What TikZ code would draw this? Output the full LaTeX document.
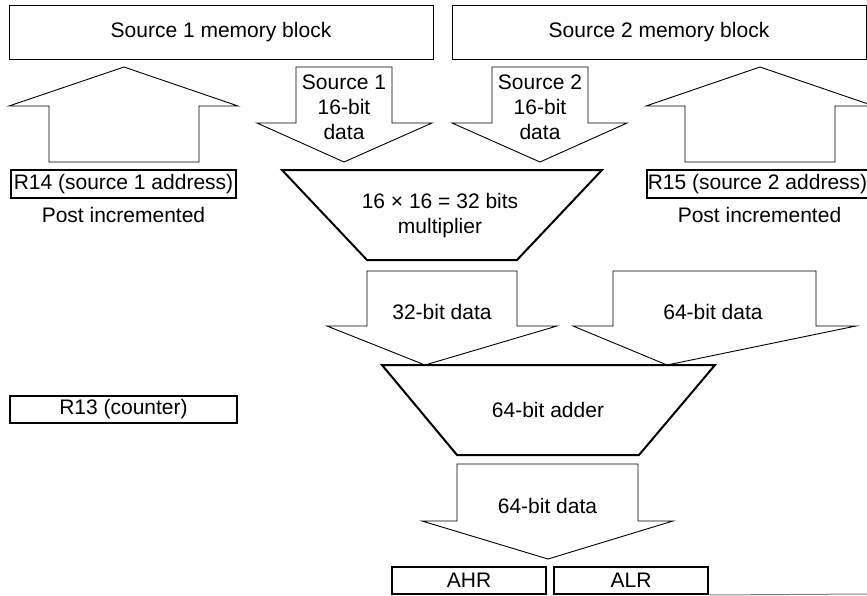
\documentclass[tikz,border=0pt]{standalone}
\usepackage{fontspec}
\setmainfont{Liberation Sans}
\begin{document}
\begin{tikzpicture}[x=1pt,y=-1pt,
  every node/.style={font=\fontsize{21}{25}\selectfont, inner sep=0pt},
  memblock/.style={draw, line width=1pt},
  regbox/.style={draw, line width=2pt},
  blockarrow/.style={draw, line width=0.9pt, fill=white, line join=miter},
  unitbox/.style={draw, line width=2pt, line join=miter},
  lbl/.style={align=center}
]
\useasboundingbox (0,0) rectangle (867,595);
\clip (0,0) rectangle (867,595);

% memory blocks
\node[memblock, minimum width=424pt, minimum height=54pt] (mem1) at (221,32) {Source 1 memory block};
\node[memblock, minimum width=414pt, minimum height=54pt] (mem2) at (659,32) {Source 2 memory block};

% address arrows (up)
\draw[blockarrow] (49,162) -- (49,106) -- (9,106) -- (124,67) -- (238,106) -- (199,106) -- (199,162) -- cycle;
\draw[blockarrow] (685,162) -- (685,106) -- (646,106) -- (760,67) -- (874,106) -- (835,106) -- (835,162) -- cycle;

% data arrows (down)
\draw[blockarrow] (296,67) -- (392,67) -- (392,123) -- (432,123) -- (344,162) -- (257,123) -- (296,123) -- cycle;
\node[lbl] (d1) at (344,107) {Source 1\\16-bit\\data};
\draw[blockarrow] (492,67) -- (588,67) -- (588,123) -- (627,123) -- (540,162) -- (452,123) -- (492,123) -- cycle;
\node[lbl] (d2) at (540,107) {Source 2\\16-bit\\data};

% registers
\node[regbox, minimum width=225pt, minimum height=28pt] (r14) at (123.5,184) {R14 (source 1 address)};
\node (pi1) at (123.5,215) {Post incremented};
\node[regbox, minimum width=221pt, minimum height=28pt, anchor=west] (r15) at (646,184) {R15 (source 2 address)};
\node (pi2) at (759.5,215) {Post incremented};
\node[regbox, minimum width=227pt, minimum height=27pt] (r13) at (123.5,409.5) {R13 (counter)};

% multiplier
\draw[unitbox] (282,170) -- (602,170) -- (517,260) -- (367,260) -- cycle;
\node[lbl] (mul) at (440,215.5) {16 × 16 = 32 bits\\multiplier};

% 32-bit data arrow
\draw[blockarrow] (367,271) -- (517,271) -- (517,326) -- (557,326) -- (425,365) -- (327,326) -- (367,326) -- cycle;
\node (d32) at (442,312) {32-bit data};

% 64-bit data arrow (feedback)
\draw[blockarrow] (613,271) -- (816,271) -- (816,326) -- (856,326) -- (667,365) -- (573,326) -- (613,326) -- cycle;
\node (d64a) at (713,312) {64-bit data};

% adder
\draw[unitbox] (382,365) -- (715,365) -- (639,455) -- (457,455) -- cycle;
\node (add) at (548,410) {64-bit adder};

% output arrow
\draw[blockarrow] (457,464) -- (638,464) -- (638,521) -- (673,521) -- (548,559) -- (422,521) -- (457,521) -- cycle;
\node (d64b) at (547.5,506) {64-bit data};

% accumulators
\node[regbox, minimum width=154pt, minimum height=27pt] (ahr) at (469,580.5) {AHR};
\node[regbox, minimum width=154pt, minimum height=27pt] (alr) at (631,580.5) {ALR};
\draw[gray, line width=1pt] (alr.south east) -- (867,594);
\end{tikzpicture}
\end{document}
